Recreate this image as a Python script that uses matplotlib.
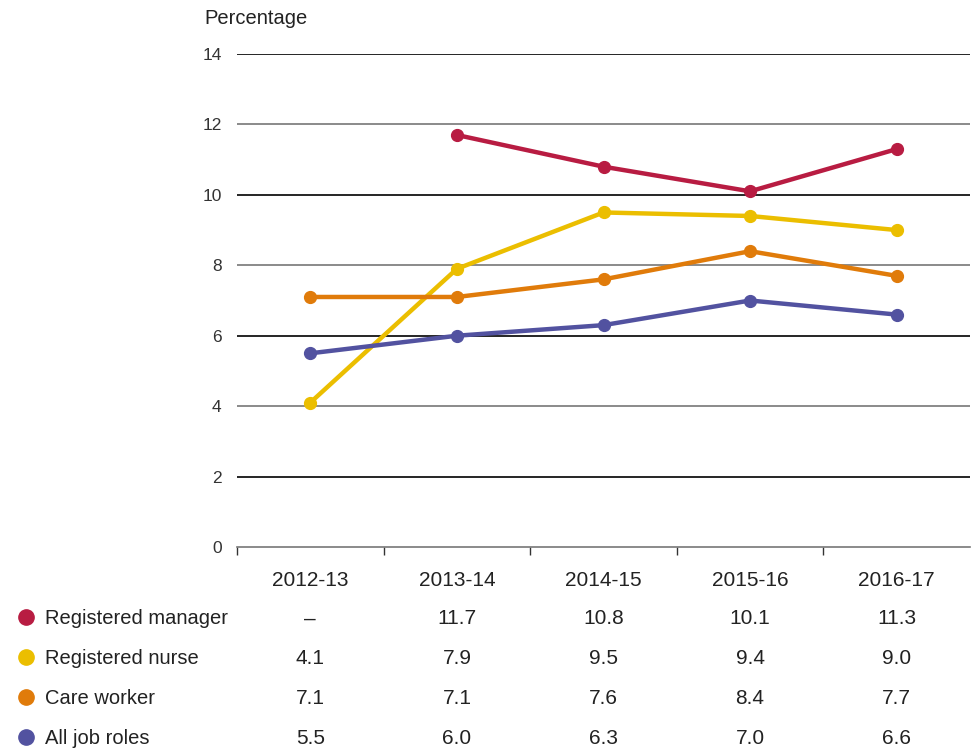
import numpy as np
import matplotlib
matplotlib.use("Agg")
import matplotlib.pyplot as plt
from matplotlib.lines import Line2D
from matplotlib.transforms import blended_transform_factory

plt.rcParams['font.family'] = ['Liberation Sans', 'DejaVu Sans']

years = ["2012-13", "2013-14", "2014-15", "2015-16", "2016-17"]
series_names = ["Registered manager", "Registered nurse", "Care worker", "All job roles"]
manager = [np.nan, 11.7, 10.8, 10.1, 11.3]
nurse = [4.1, 7.9, 9.5, 9.4, 9.0]
care = [7.1, 7.1, 7.6, 8.4, 7.7]
all_roles = [5.5, 6.0, 6.3, 7.0, 6.6]
colors = ["#B81C42", "#EBBE00", "#E07B0A", "#5252A0"]
yticks = [0, 2, 4, 6, 8, 10, 12, 14]

values = [manager, nurse, care, all_roles]
text_col = "#222222"

fig = plt.figure(figsize=(9.72, 7.5), dpi=100)
ax = fig.add_axes([237/972, 1-547/750, 733/972, 493/750])
x = np.arange(len(years))

# gridlines: alternate black / gray
for t in yticks:
    if t == 0:
        continue
    c = "#000000" if (t // 2) % 2 == 1 else "#777777"
    ax.axhline(t, color=c, lw=1.2, zorder=1)

for vals, col in zip(values, colors):
    ax.plot(x, vals, color=col, lw=3.2, marker="o", ms=8.5, zorder=3,
            solid_capstyle="round")

ax.set_xlim(-0.5, len(years) - 0.5)
ax.set_ylim(0, 14)
for s in ["top", "right", "left"]:
    ax.spines[s].set_visible(False)
ax.spines["bottom"].set_color("#777777")
ax.spines["bottom"].set_linewidth(1.2)
ax.set_yticks(yticks)
ax.tick_params(axis="y", length=0, pad=11, labelsize=12.5, labelcolor="#333333")
ax.set_xticks(np.arange(len(years)) - 0.5)
ax.set_xticklabels([])
ax.tick_params(axis="x", direction="out", length=6, width=1, color="#333333")

fig.text(204/972, 1-16/750, "Percentage", fontsize=14.5, color=text_col,
         va="center_baseline", ha="left")

trans = blended_transform_factory(ax.transData, fig.transFigure)
for xi, yr in zip(x, years):
    ax.text(xi, 1-578/750, yr, transform=trans, ha="center", va="center_baseline",
            fontsize=15, color=text_col)

row_y = [617, 657, 697, 737]
for name, vals, col, ry in zip(series_names, values, colors, row_y):
    yf = 1 - ry/750
    fig.add_artist(Line2D([26/972], [yf], transform=fig.transFigure, marker="o",
                          ms=11, color=col, lw=0))
    fig.text(45/972, yf, name, fontsize=14.5, color=text_col,
             va="center_baseline", ha="left")
    for xi, v in zip(x, vals):
        s = "\u2013" if np.isnan(v) else f"{v:.1f}"
        ax.text(xi, yf, s, transform=trans, ha="center", va="center_baseline",
                fontsize=15, color=text_col)

fig.savefig("out.png", dpi=100)
